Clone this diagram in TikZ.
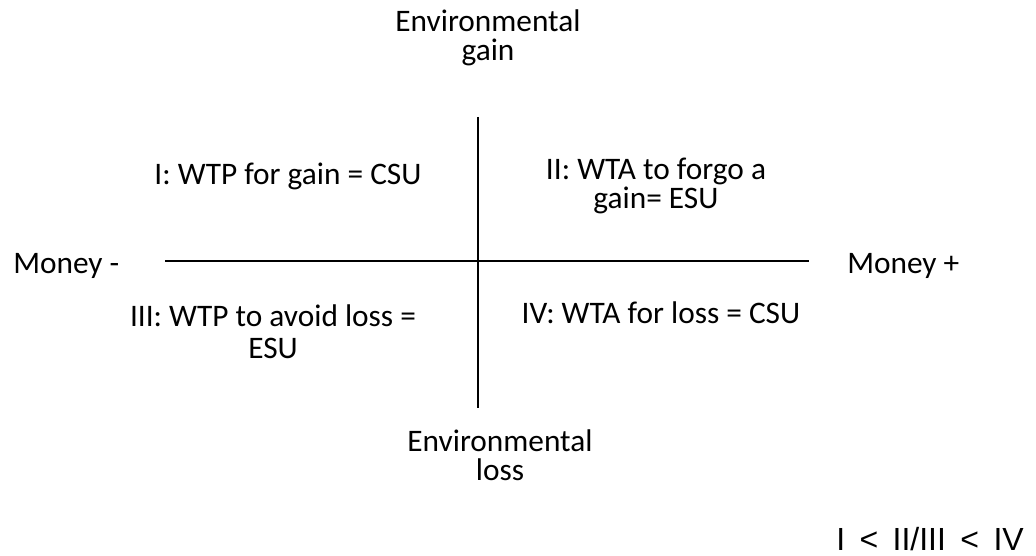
\documentclass[tikz,border=0pt]{standalone}
\usepackage{fontspec}
\setmainfont{Carlito}
\newfontfamily\arialfont{Liberation Sans}
\usepackage{tikz}
\usetikzlibrary{positioning}

\begin{document}
\begin{tikzpicture}[x=0.75pt,y=-0.75pt]
  \tikzset{
    lbl/.style={font=\fontsize{23.5}{21.5}\selectfont, align=center, inner sep=0pt},
    axisline/.style={line width=1.9pt}
  }
  \useasboundingbox (0,0) rectangle (1036,556);
  % axes
  \coordinate (west) at (165,261);
  \coordinate (east) at (809,261);
  \coordinate (north) at (478,117);
  \coordinate (south) at (478,408);
  \draw[axisline] (west) -- (east);
  \draw[axisline] (north) -- (south);
  % axis labels
  \node[lbl] (gain) at (488,38) {Environmental\\gain};
  \node[lbl] (loss) at (500,455) {Environmental\\loss};
  \node[lbl, anchor=base west] (mminus) at (13,274) {Money -};
  \node[lbl, anchor=base west] (mplus) at (847,274) {Money +};
  % quadrants
  \node[lbl, anchor=base] (q1) at (288,185) {I: WTP for gain = CSU};
  \node[lbl] (q2) at (656,186) {II: WTA to forgo a\\gain= ESU};
  \node[lbl, font=\fontsize{23.5}{24}\selectfont] (q3) at (273,332) {III: WTP to avoid loss =\\ESU};
  \node[lbl, anchor=base] (q4) at (661,323) {IV: WTA for loss = CSU};
  \node[font=\arialfont\fontsize{24}{28}\selectfont, inner sep=0pt, anchor=base] (order) at (930,550)
    {I\hspace{0.45em}<\hspace{0.45em}II/III\hspace{0.45em}<\hspace{0.45em}IV};
\end{tikzpicture}
\end{document}
